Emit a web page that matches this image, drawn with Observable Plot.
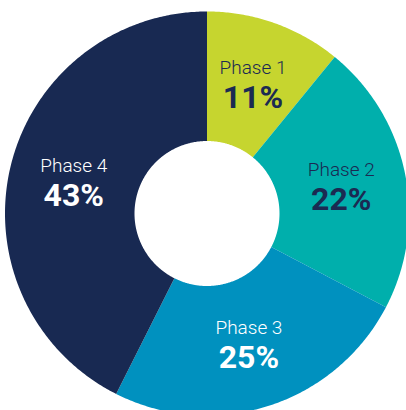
<!DOCTYPE html>
<html><head><meta charset="utf-8">
<script src="https://cdn.jsdelivr.net/npm/d3@7"></script>
<script src="https://cdn.jsdelivr.net/npm/@observablehq/plot@0.6"></script>
<style>html,body{margin:0;padding:0;background:#fff;overflow:hidden}</style>
</head><body><div id="chart"></div>
<script>
const phases = ["Phase 1", "Phase 2", "Phase 3", "Phase 4"];
const shares = [11, 22, 25, 43];
const shareLabels = ["11%", "22%", "25%", "43%"];
const sliceColors = ["#c6d52f", "#00afac", "#0091bf", "#182952"];
const textColors = ["#1b2a52", "#1b2a52", "#ffffff", "#ffffff"];

const W = 406, H = 410;
const cx = 206.5, cy = 213, R = 202, R0 = 72.5, RL = 137;
const total = d3.sum(shares);

let acc = 0;
const slices = phases.map((p, i) => {
  const a0 = acc / total * 2 * Math.PI;
  acc += shares[i];
  const a1 = acc / total * 2 * Math.PI;
  const n = Math.max(8, Math.ceil((a1 - a0) / (Math.PI / 360)));
  const pts = [];
  for (let k = 0; k <= n; k++) {
    const a = a0 + (a1 - a0) * k / n;
    pts.push({u: R * Math.sin(a), v: R * Math.cos(a)});
  }
  for (let k = n; k >= 0; k--) {
    const a = a0 + (a1 - a0) * k / n;
    pts.push({u: R0 * Math.sin(a), v: R0 * Math.cos(a)});
  }
  pts.push(pts[0]);
  const am = (a0 + a1) / 2;
  return {phase: p, label: shareLabels[i], color: sliceColors[i], text: textColors[i], pts,
          lu: RL * Math.sin(am), lv: RL * Math.cos(am)};
});

const marks = [];
slices.forEach(s => {
  marks.push(Plot.line(s.pts, {x: "u", y: "v", fill: s.color, stroke: "none", curve: "linear"}));
});
slices.forEach(s => {
  marks.push(Plot.text([s], {x: "lu", y: "lv", text: "phase", fill: s.text, fontSize: 19, fontWeight: 300,
    textAnchor: "middle", lineAnchor: "bottom", dy: -10}));
  marks.push(Plot.text([s], {x: "lu", y: "lv", text: "label", fill: s.text, fontSize: 32, fontWeight: 700,
    textAnchor: "middle", lineAnchor: "bottom", dy: 24}));
});

const chart = Plot.plot({
  width: W, height: H, margin: 0,
  x: {domain: [-cx, W - cx], range: [0, W], axis: null},
  y: {domain: [cy - H, cy], range: [H, 0], axis: null},
  style: {fontFamily: "Roboto, sans-serif", background: "#fff"},
  marks
});
document.getElementById("chart").appendChild(chart);
</script></body></html>
